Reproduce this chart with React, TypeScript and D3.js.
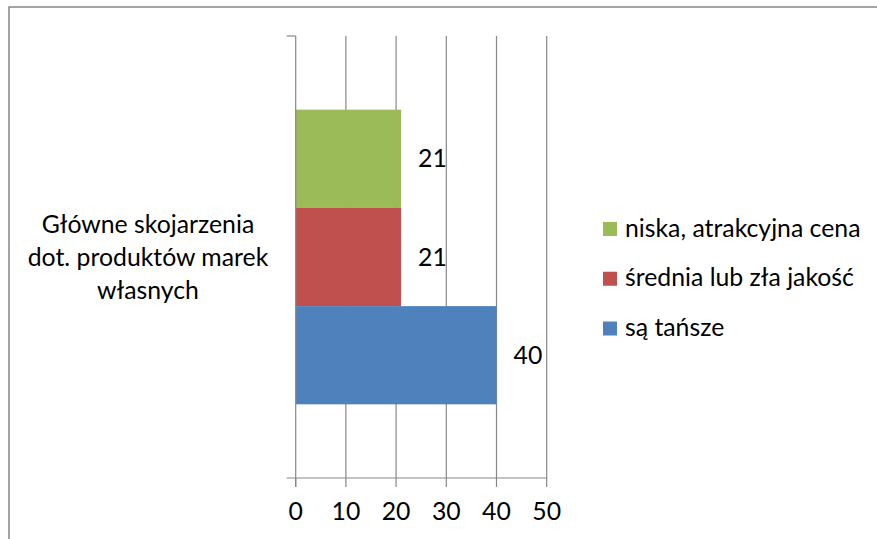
import React from "react";
import * as d3 from "d3";

const categories = ["Główne skojarzenia dot. produktów marek własnych"];
const categoryLines = ["Główne skojarzenia", "dot. produktów marek", "własnych"];
const seriesNames = ["niska, atrakcyjna cena", "średnia lub zła jakość", "są tańsze"];
const seriesValues = [21, 21, 40];
const seriesColors = ["#9BBB59", "#C0504D", "#4F81BD"];
const xTicks = [0, 10, 20, 30, 40, 50];

const W = 877;
const H = 539;
const FONT = "Lato, 'Liberation Sans', sans-serif";

export default function App() {
  const x = d3.scaleLinear().domain([0, 50]).range([295.7, 546.7]);
  const yCat = d3.scaleBand<string>().domain(categories).range([36, 478]).paddingOuter(0).paddingInner(0);
  const ySer = d3
    .scaleBand<string>()
    .domain(seriesNames)
    .range([0, yCat.bandwidth()])
    .paddingInner(0)
    .paddingOuter(0.75);
  const plotTop = 36;
  const plotBottom = 478;
  const gridColor = "#878787";
  const fs = 24.8;

  const legendY = d3.scalePoint<string>().domain(seriesNames).range([229, 328.5]);

  return (
    <svg
      width={W}
      height={H}
      style={{ position: "absolute", left: 0, top: 0, background: "#fff" }}
      fontFamily={FONT}
    >
      <rect x={0} y={0} width={W} height={H} fill="#fff" />
      <rect x={9} y={7} width={W + 40} height={H + 40} fill="none" stroke="#868686" strokeWidth={1.5} />

      {/* gridlines */}
      {xTicks.slice(1).map((t) => (
        <line key={"g" + t} x1={x(t)} x2={x(t)} y1={plotTop} y2={plotBottom} stroke={gridColor} strokeWidth={1.2} />
      ))}

      {/* bars */}
      {categories.map((c) =>
        seriesNames.map((s, i) => (
          <rect
            key={c + s}
            x={x(0)}
            y={(yCat(c) as number) + (ySer(s) as number)}
            width={x(seriesValues[i]) - x(0)}
            height={ySer.bandwidth()}
            fill={seriesColors[i]}
          />
        ))
      )}

      {/* value axis */}
      <line x1={x(0)} x2={x(0)} y1={plotTop} y2={plotBottom + 9} stroke={gridColor} strokeWidth={1.2} />
      <line x1={x(0) - 9} x2={x(50)} y1={plotBottom} y2={plotBottom} stroke={gridColor} strokeWidth={1.2} />
      <line x1={x(0) - 9} x2={x(0)} y1={plotTop} y2={plotTop} stroke={gridColor} strokeWidth={1.2} />
      {xTicks.map((t) => (
        <g key={"t" + t}>
          <line x1={x(t)} x2={x(t)} y1={plotBottom} y2={plotBottom + 9} stroke={gridColor} strokeWidth={1.2} />
          <text x={x(t)} y={520} textAnchor="middle" fontSize={fs} fill="#000">
            {t}
          </text>
        </g>
      ))}

      {/* data labels */}
      {categories.map((c) =>
        seriesNames.map((s, i) => (
          <text
            key={"l" + s}
            x={x(seriesValues[i]) + 17}
            y={(yCat(c) as number) + (ySer(s) as number) + ySer.bandwidth() / 2 + 8.5}
            fontSize={fs}
            fill="#000"
          >
            {seriesValues[i]}
          </text>
        ))
      )}

      {/* category label */}
      {categoryLines.map((l, i) => (
        <text key={"c" + i} x={148} y={233 + i * 33} textAnchor="middle" fontSize={fs} fill="#000">
          {l}
        </text>
      ))}

      {/* legend */}
      {seriesNames.map((s, i) => (
        <g key={"lg" + s}>
          <rect x={603} y={(legendY(s) as number) - 7} width={14} height={14} fill={seriesColors[i]} />
          <text x={625} y={(legendY(s) as number) + 7.5} fontSize={fs} fill="#000">
            {s}
          </text>
        </g>
      ))}
    </svg>
  );
}
